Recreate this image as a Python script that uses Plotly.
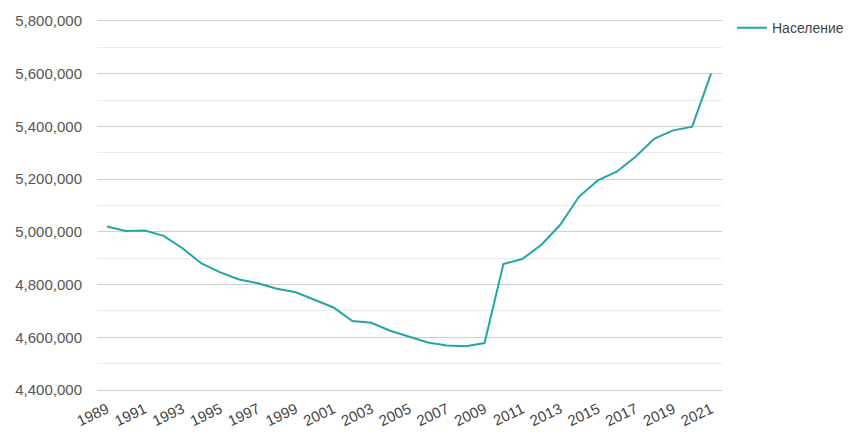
import plotly.graph_objects as go

years = list(range(1989, 2022))
population = [
    5020000, 5003000, 5005000, 4985000, 4938000, 4880000, 4846000, 4819000,
    4805000, 4784000, 4771000, 4742000, 4713000, 4662000, 4655000, 4625000,
    4601000, 4580000, 4569000, 4566000, 4578000, 4878000, 4897000, 4950000,
    5026000, 5133000, 5195000, 5228000, 5285000, 5354000, 5385000, 5399000,
    5600000,
]
series_name = "Население"
x_ticks = list(range(1989, 2022, 2))

fig = go.Figure()
fig.add_trace(go.Scatter(
    x=years, y=population, mode="lines", name=series_name,
    line=dict(color="#24a6a6", width=2),
))

fig.update_layout(
    width=852, height=440,
    margin=dict(l=97, r=130, t=21, b=50, autoexpand=False),
    paper_bgcolor="white", plot_bgcolor="white",
    font=dict(family="Liberation Sans, Arial, sans-serif", color="#555555"),
    showlegend=True,
    legend=dict(
        x=1.016, y=1.024, xanchor="left", yanchor="top",
        font=dict(size=14, color="#444444"),
        bgcolor="rgba(0,0,0,0)", itemwidth=30,
    ),
    xaxis=dict(
        range=[1988.47, 2021.58],
        tickmode="array", tickvals=x_ticks, ticktext=[str(v) for v in x_ticks],
        tickangle=-25, showgrid=False, zeroline=False,
        showline=True, mirror=True, linecolor="#cfcfcf", linewidth=1,
        tickfont=dict(size=15, color="#444444"),
        ticks="", ticklen=0, ticklabelstandoff=4,
    ),
    yaxis=dict(
        range=[4400000, 5800000], dtick=200000, tick0=4400000,
        tickformat=",d", gridcolor="#cfcfcf", gridwidth=1,
        zeroline=False, showline=False,
        tickfont=dict(size=15, color="#555555"),
        ticks="", ticklabelstandoff=14,
        minor=dict(dtick=100000, tick0=4400000, showgrid=True, gridcolor="#ebebeb", gridwidth=1),
    ),
)

fig.write_html("out.html")
